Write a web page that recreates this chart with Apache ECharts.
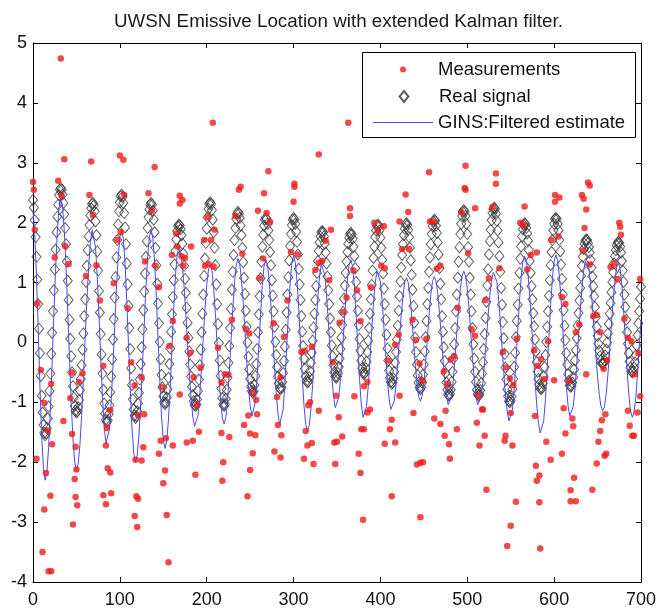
<!DOCTYPE html>
<html>
<head>
<meta charset="utf-8">
<title>UWSN Emissive Location</title>
<script src="https://cdn.jsdelivr.net/npm/echarts@6.0.0/dist/echarts.min.js"></script>
<style>
html, body { margin: 0; padding: 0; background: #fff; }
#chart { width: 659px; height: 609px; }
</style>
</head>
<body>
<div id="chart"></div>
<script>
// real signal: one sample per time step, t = 0 .. 700
const sigY = [
  2.38, 2.25, 2.04, 1.76, 1.43, 1.05, 0.64, 0.23, -0.18, -0.56, -0.89, -1.17, -1.38, -1.51, -1.55,
  -1.52, -1.43, -1.27, -1.07, -0.81, -0.52, -0.19, 0.16, 0.52, 0.87, 1.22, 1.55, 1.84, 2.10, 2.30, 2.46, 2.55, 2.58,
  2.55, 2.47, 2.33, 2.14, 1.91, 1.64, 1.35, 1.03, 0.71, 0.38, 0.06, -0.23, -0.50, -0.73, -0.92, -1.06, -1.14, -1.17,
  -1.15, -1.08, -0.96, -0.80, -0.61, -0.38, -0.12, 0.15, 0.44, 0.72, 1.01, 1.28, 1.54, 1.77, 1.96, 2.12, 2.24, 2.31, 2.33,
  2.29, 2.19, 2.02, 1.79, 1.52, 1.20, 0.86, 0.50, 0.14, -0.20, -0.52, -0.79, -1.02, -1.19, -1.29, -1.33,
  -1.30, -1.20, -1.05, -0.83, -0.57, -0.28, 0.05, 0.39, 0.75, 1.09, 1.42, 1.71, 1.97, 2.19, 2.34, 2.44, 2.47,
  2.43, 2.33, 2.16, 1.92, 1.64, 1.32, 0.97, 0.61, 0.24, -0.11, -0.43, -0.71, -0.95, -1.12, -1.22, -1.26,
  -1.23, -1.15, -1.02, -0.84, -0.62, -0.36, -0.08, 0.22, 0.54, 0.85, 1.15, 1.43, 1.69, 1.91, 2.09, 2.22, 2.30, 2.33,
  2.30, 2.20, 2.05, 1.84, 1.58, 1.29, 0.98, 0.65, 0.32, 0.01, -0.28, -0.54, -0.75, -0.90, -1.00, -1.03,
  -1.00, -0.92, -0.78, -0.59, -0.36, -0.10, 0.18, 0.47, 0.76, 1.04, 1.30, 1.53, 1.72, 1.86, 1.94, 1.97,
  1.95, 1.89, 1.79, 1.65, 1.48, 1.28, 1.06, 0.83, 0.58, 0.33, 0.08, -0.15, -0.37, -0.57, -0.74, -0.88, -0.98, -1.04, -1.06,
  -1.03, -0.95, -0.81, -0.62, -0.38, -0.12, 0.17, 0.48, 0.80, 1.11, 1.40, 1.66, 1.90, 2.09, 2.23, 2.31, 2.34,
  2.31, 2.21, 2.05, 1.84, 1.58, 1.29, 0.97, 0.64, 0.31, -0.01, -0.30, -0.56, -0.77, -0.93, -1.03, -1.06,
  -1.03, -0.94, -0.79, -0.59, -0.34, -0.06, 0.24, 0.56, 0.88, 1.18, 1.46, 1.71, 1.91, 2.06, 2.15, 2.18,
  2.15, 2.08, 1.95, 1.79, 1.58, 1.34, 1.08, 0.81, 0.53, 0.26, 0.00, -0.24, -0.45, -0.61, -0.74, -0.81, -0.84,
  -0.81, -0.71, -0.56, -0.36, -0.11, 0.17, 0.47, 0.77, 1.07, 1.35, 1.60, 1.80, 1.95, 2.05, 2.08,
  2.06, 1.98, 1.87, 1.71, 1.51, 1.29, 1.04, 0.78, 0.52, 0.26, 0.01, -0.21, -0.41, -0.57, -0.68, -0.76, -0.78,
  -0.75, -0.66, -0.51, -0.31, -0.07, 0.21, 0.50, 0.80, 1.09, 1.37, 1.61, 1.81, 1.96, 2.05, 2.08,
  2.05, 1.98, 1.85, 1.68, 1.47, 1.23, 0.97, 0.71, 0.44, 0.18, -0.06, -0.27, -0.44, -0.57, -0.64, -0.67,
  -0.65, -0.58, -0.48, -0.34, -0.17, 0.03, 0.25, 0.48, 0.71, 0.94, 1.16, 1.36, 1.53, 1.67, 1.77, 1.84, 1.86,
  1.84, 1.77, 1.65, 1.50, 1.32, 1.10, 0.87, 0.64, 0.40, 0.17, -0.05, -0.23, -0.38, -0.50, -0.57, -0.59,
  -0.57, -0.51, -0.41, -0.27, -0.11, 0.08, 0.29, 0.51, 0.73, 0.95, 1.16, 1.35, 1.51, 1.65, 1.75, 1.81, 1.83,
  1.80, 1.73, 1.60, 1.44, 1.24, 1.01, 0.77, 0.53, 0.29, 0.06, -0.14, -0.30, -0.43, -0.50, -0.53,
  -0.51, -0.43, -0.32, -0.16, 0.03, 0.24, 0.48, 0.72, 0.96, 1.20, 1.41, 1.60, 1.76, 1.87, 1.95, 1.97,
  1.94, 1.87, 1.75, 1.58, 1.38, 1.15, 0.90, 0.64, 0.38, 0.13, -0.10, -0.30, -0.47, -0.59, -0.66, -0.69,
  -0.67, -0.60, -0.49, -0.34, -0.16, 0.05, 0.28, 0.53, 0.77, 1.02, 1.25, 1.46, 1.64, 1.79, 1.90, 1.97, 1.99,
  1.96, 1.88, 1.76, 1.58, 1.37, 1.13, 0.88, 0.61, 0.33, 0.08, -0.16, -0.37, -0.55, -0.67, -0.75, -0.78,
  -0.75, -0.67, -0.54, -0.37, -0.15, 0.09, 0.36, 0.64, 0.91, 1.18, 1.42, 1.64, 1.81, 1.94, 2.02, 2.05,
  2.03, 1.95, 1.83, 1.67, 1.47, 1.24, 0.98, 0.72, 0.44, 0.18, -0.08, -0.31, -0.51, -0.67, -0.79, -0.87, -0.89,
  -0.86, -0.79, -0.66, -0.49, -0.27, -0.03, 0.24, 0.52, 0.80, 1.08, 1.35, 1.59, 1.81, 1.98, 2.11, 2.18, 2.21,
  2.18, 2.11, 1.98, 1.81, 1.59, 1.35, 1.08, 0.80, 0.52, 0.24, -0.03, -0.27, -0.49, -0.66, -0.79, -0.86, -0.89,
  -0.87, -0.80, -0.68, -0.52, -0.33, -0.11, 0.14, 0.41, 0.68, 0.95, 1.22, 1.47, 1.69, 1.88, 2.04, 2.16, 2.23, 2.25,
  2.23, 2.15, 2.03, 1.87, 1.67, 1.44, 1.18, 0.91, 0.63, 0.34, 0.07, -0.19, -0.42, -0.62, -0.78, -0.90, -0.98, -1.00,
  -0.97, -0.90, -0.78, -0.61, -0.41, -0.17, 0.09, 0.36, 0.63, 0.90, 1.16, 1.40, 1.60, 1.77, 1.89, 1.96, 1.99,
  1.97, 1.91, 1.82, 1.70, 1.54, 1.36, 1.16, 0.94, 0.72, 0.49, 0.27, 0.05, -0.15, -0.33, -0.49, -0.61, -0.70, -0.76, -0.78,
  -0.76, -0.68, -0.57, -0.41, -0.21, 0.01, 0.26, 0.52, 0.78, 1.04, 1.29, 1.51, 1.71, 1.87, 1.98, 2.06, 2.08,
  2.06, 1.98, 1.87, 1.71, 1.52, 1.30, 1.06, 0.80, 0.54, 0.28, 0.04, -0.18, -0.37, -0.53, -0.64, -0.72, -0.74,
  -0.72, -0.67, -0.58, -0.45, -0.30, -0.13, 0.07, 0.28, 0.49, 0.70, 0.91, 1.11, 1.28, 1.43, 1.56, 1.65, 1.70, 1.72,
  1.71, 1.66, 1.59, 1.50, 1.38, 1.25, 1.10, 0.94, 0.77, 0.59, 0.42, 0.26, 0.11, -0.02, -0.14, -0.23, -0.30, -0.35, -0.36,
  -0.34, -0.30, -0.22, -0.12, 0.00, 0.15, 0.31, 0.48, 0.66, 0.84, 1.01, 1.17, 1.32, 1.44, 1.54, 1.62, 1.66, 1.68,
  1.66, 1.60, 1.50, 1.36, 1.20, 1.01, 0.80, 0.59, 0.38, 0.17, -0.02, -0.18, -0.32, -0.42, -0.48, -0.50,
  -0.48, -0.42, -0.33, -0.21, -0.05, 0.12, 0.32, 0.52, 0.73, 0.93
];

// GINS filtered estimate: one sample every 2 time steps, t = 0 .. 700
const estY = [
  2.20, 1.82, 1.11, 0.21, -0.73, -1.55, -2.10, -2.30,
  -2.16, -1.75, -1.13, -0.36, 0.46, 1.23, 1.85, 2.26, 2.40,
  2.26, 1.87, 1.27, 0.52, -0.26, -1.01, -1.61, -2.00, -2.14,
  -2.03, -1.71, -1.22, -0.62, 0.05, 0.69, 1.25, 1.66, 1.87,
  1.87, 1.59, 1.10, 0.44, -0.26, -0.92, -1.41, -1.69,
  -1.69, -1.45, -1.00, -0.41, 0.25, 0.88, 1.41, 1.76, 1.88,
  1.73, 1.31, 0.68, -0.06, -0.80, -1.43, -1.85, -2.00,
  -1.88, -1.55, -1.03, -0.40, 0.28, 0.91, 1.43, 1.76, 1.88,
  1.74, 1.35, 0.75, 0.06, -0.64, -1.24, -1.63, -1.77,
  -1.64, -1.28, -0.73, -0.09, 0.56, 1.11, 1.47, 1.60,
  1.52, 1.28, 0.92, 0.46, -0.03, -0.52, -0.93, -1.24, -1.40,
  -1.40, -1.22, -0.88, -0.43, 0.07, 0.55, 0.95, 1.21, 1.30,
  1.20, 0.91, 0.48, -0.03, -0.54, -0.97, -1.26, -1.36,
  -1.25, -0.96, -0.51, 0.02, 0.55, 1.00, 1.29, 1.40,
  1.31, 1.05, 0.67, 0.20, -0.29, -0.72, -1.05, -1.23,
  -1.22, -1.00, -0.59, -0.07, 0.47, 0.95, 1.27, 1.38,
  1.29, 1.02, 0.61, 0.12, -0.38, -0.84, -1.18, -1.37,
  -1.36, -1.12, -0.68, -0.12, 0.47, 0.98, 1.33, 1.45,
  1.34, 1.02, 0.55, -0.02, -0.58, -1.05, -1.37, -1.48,
  -1.39, -1.11, -0.70, -0.20, 0.31, 0.77, 1.12, 1.31,
  1.31, 1.12, 0.79, 0.35, -0.13, -0.57, -0.90, -1.09,
  -1.09, -0.92, -0.62, -0.21, 0.25, 0.69, 1.06, 1.30, 1.38,
  1.27, 0.94, 0.46, -0.09, -0.62, -1.03, -1.25,
  -1.26, -1.07, -0.73, -0.28, 0.21, 0.66, 1.00, 1.19,
  1.19, 1.01, 0.69, 0.26, -0.19, -0.62, -0.94, -1.12,
  -1.12, -0.97, -0.70, -0.33, 0.07, 0.46, 0.79, 1.01, 1.08,
  1.00, 0.78, 0.44, 0.05, -0.34, -0.68, -0.90, -0.98,
  -0.90, -0.68, -0.34, 0.06, 0.46, 0.80, 1.02, 1.10,
  1.03, 0.82, 0.50, 0.12, -0.28, -0.63, -0.90, -1.04,
  -1.04, -0.89, -0.61, -0.24, 0.17, 0.57, 0.90, 1.11, 1.19,
  1.11, 0.90, 0.57, 0.17, -0.24, -0.61, -0.89, -1.04,
  -1.04, -0.91, -0.66, -0.32, 0.07, 0.45, 0.79, 1.04, 1.17,
  1.17, 1.02, 0.74, 0.36, -0.07, -0.50, -0.88, -1.16, -1.31,
  -1.31, -1.12, -0.78, -0.32, 0.18, 0.67, 1.08, 1.35, 1.44,
  1.36, 1.13, 0.77, 0.32, -0.17, -0.64, -1.05, -1.35, -1.51,
  -1.50, -1.31, -0.94, -0.44, 0.10, 0.63, 1.07, 1.36, 1.46,
  1.37, 1.11, 0.71, 0.23, -0.27, -0.71, -1.05, -1.23,
  -1.23, -1.07, -0.78, -0.38, 0.07, 0.51, 0.91, 1.20, 1.36,
  1.36, 1.23, 0.97, 0.63, 0.22, -0.19, -0.57, -0.87, -1.07, -1.14,
  -1.07, -0.85, -0.52, -0.12, 0.31, 0.71, 1.04, 1.26, 1.33,
  1.23, 0.95, 0.53, 0.04, -0.45, -0.87, -1.15, -1.25,
  -1.16, -0.92, -0.54, -0.09, 0.37
];

// measurements close to the signal
const bandX = [
  1, 5, 9, 13, 17, 21, 25, 29, 33, 37, 41, 45, 49, 53, 57, 61, 65, 69, 73, 77, 81, 85, 89, 93, 97,
  101, 105, 109, 113, 117, 121, 125, 129, 133, 137, 141, 145, 149, 153, 157, 161, 165, 169, 173, 177, 181, 185, 189, 193, 197,
  201, 205, 209, 213, 217, 221, 225, 229, 233, 237, 241, 245, 249, 253, 257, 261, 265, 269, 273, 277, 281, 285, 289, 293, 297,
  301, 305, 309, 313, 317, 321, 325, 329, 333, 337, 341, 345, 349, 353, 357, 361, 365, 369, 373, 377, 381, 385, 389, 393, 397,
  401, 405, 409, 413, 417, 421, 425, 429, 433, 437, 441, 445, 449, 453, 457, 461, 465, 469, 473, 477, 481, 485, 489, 493, 497,
  501, 505, 509, 513, 517, 521, 525, 529, 533, 537, 541, 545, 549, 553, 557, 561, 565, 569, 573, 577, 581, 585, 589, 593, 597,
  601, 605, 609, 613, 617, 621, 625, 629, 633, 637, 641, 645, 649, 653, 657, 661, 665, 669, 673, 677, 681, 685, 689, 693, 697
];
const bandY = [
  2.55, 0.65, -0.46, -1.01, -1.47, -0.69, 1.42, 2.70, 2.45, 1.61, 1.31, -0.50, -1.74,
  -0.66, -0.52, 1.11, 2.46, 2.13, 1.29, 0.70, -0.39, -1.43, -1.13, 0.99, 1.71, 1.84,
  2.46, 0.57, -0.33, -0.72, -1.22, -0.58, 1.35, 2.49, 2.20, 1.28, 0.92, -0.75, -1.60,
  -0.06, 0.36, 1.82, 2.45, 1.28, 0.08, -0.17, -0.58, -1.05, -0.42, 1.71, 2.09, 1.71,
  1.88, -0.09, -0.67, -0.53, -0.54, 0.38, 2.11, 2.55, 1.48, 0.23, 0.15, -0.84, -0.96,
  1.07, 1.40, 2.16, 2.01, 0.32, -0.91, -0.58, 0.09, 0.70, 1.51, 2.65, 1.47, -0.16,
  -0.14, -1.05, -0.07, 1.21, 1.33, 1.36, 1.70, 1.04, -0.33, -0.89, 0.33, 0.51, 0.75,
  2.11, 1.20, 0.87, 0.36, -0.73, -0.66, 0.92, 2.00, 1.87, 1.28, 1.24, -0.30, -1.29,
  -0.04, 0.13, 1.56, 2.47, 1.56, 0.38, 0.04, -0.35, -0.64, 0.06, 2.02, 2.02, 1.23,
  1.28, -0.48, -0.69, -0.29, -0.23, 0.58, 2.18, 2.58, 1.49, 0.22, 0.11, -0.89, -1.12,
  0.71, 1.07, 2.26, 2.65, 1.24, -0.16, -0.42, -0.60, -0.71, 0.06, 2.00, 1.96, 1.22,
  1.46, -0.13, -0.39, -0.28, -0.61, 0.02, 1.71, 2.46, 1.77, 0.76, 0.64, -0.64, -1.27,
  0.17, 0.30, 1.53, 2.22, 1.30, 0.44, 0.46, 0.17, -0.44, -0.30, 1.26, 1.32, 1.06,
  1.80, 0.40, 0.08, 0.02, -0.53, -0.18
];

// measurements far from the signal
const outX = [
  0, 2, 32, 36, 67, 100, 104, 140, 169, 172, 207, 239, 259, 266, 271, 300, 301, 329, 343, 363,
  365, 404, 422, 432, 456, 498, 498, 509, 533, 566, 580, 601, 606, 632, 634, 639, 641, 635, 675, 676, 699,
  160, 166, 171, 175, 182, 198, 202, 208,
  4, 11, 18, 21, 13, 20, 15, 22, 35, 45, 46, 48, 50, 49, 51, 43,
  81, 84, 86, 89, 90, 84,
  117, 120, 119, 121, 118, 125, 127, 128,
  145, 147, 150, 152, 154, 156, 161, 169, 177, 184, 187, 191,
  217, 219, 218, 226, 243, 247, 250, 250, 253, 256, 248, 258,
  278, 282, 285, 286, 312, 314, 316, 323, 321, 329, 319,
  348, 347, 350, 352, 356, 375, 377, 380, 378, 381, 370, 385, 388,
  405, 411, 413, 417, 422, 442, 446, 449, 446, 438,
  462, 469, 474, 479, 480, 488, 475,
  511, 514, 520, 522, 518,
  544, 543, 546, 550, 552, 556, 550,
  578, 579, 580, 583, 583, 584, 591, 596, 600,
  609, 613, 611, 619, 619, 625, 623, 622,
  637, 644, 649, 651, 653, 658, 660, 655, 659,
  685, 687, 690, 692, 696, 699
];
const outY = [
  2.68, 1.88, 4.74, 3.06, 3.02, 3.12, 3.05, 2.93, 2.32, 2.38, 3.67, 2.60, 2.20, 2.49, 2.86, 2.35, 2.60, 3.14, 1.88, 3.67,
  2.24, 1.94, 2.02, 2.18, 2.84, 2.95, 2.55, 2.24, 2.82, 2.27, 1.50, 2.35, 2.42, 2.46, 2.40, 2.67, 2.62, 1.91, 2.00, 1.93, 1.06,
  1.46, 1.60, 1.44, 1.41, 1.60, 1.28, 1.31, 1.27,
  -1.94, -3.50, -3.82, -3.82, -2.79, -2.56, -2.18, -1.70, -1.31, -1.53, -3.04, -2.28, -2.12, -2.58, -2.72, -0.93,
  -2.55, -2.70, -2.10, -2.17, -2.52, -1.72,
  -2.90, -3.08, -2.57, -2.61, -1.96, -1.97, -1.75, -1.20,
  -1.86, -1.64, -2.35, -2.14, -2.88, -3.67, -1.72, -0.87, -1.67, -1.64, -2.21, -1.49,
  -1.51, -2.00, -2.31, -1.58, -1.38, -2.57, -1.52, -2.13, -1.85, -1.55, -1.22, -1.20,
  -1.82, -1.38, -1.92, -1.55, -1.94, -1.48, -1.72, -2.03, -1.68, -1.14, -1.00,
  -2.03, -1.67, -1.66, -1.25, -1.57, -1.86, -2.18, -2.96, -1.45, -1.45, -0.90, -1.17, -1.12,
  -1.69, -1.45, -2.57, -1.67, -0.89, -2.04, -2.01, -2.00, -2.92, -1.18,
  -1.27, -1.36, -1.56, -1.70, -1.94, -1.45, -1.14,
  -1.34, -1.72, -1.56, -2.46, -1.12,
  -1.56, -1.64, -3.40, -3.06, -1.72, -2.66, -1.18,
  -1.23, -2.06, -2.31, -2.22, -2.67, -3.44, -1.66, -1.96, -0.63,
  -1.86, -1.52, -1.10, -2.47, -2.65, -2.65, -2.26, -1.40,
  -0.53, -2.46, -2.02, -1.66, -1.48, -1.89, -1.86, -1.30, -1.20,
  -1.14, -1.39, -1.56, -1.56, -1.17, -0.90
];

const sigStep = 1;
const estStep = 2;

const font = "'Liberation Sans', Arial, Helvetica, sans-serif";

const sigData = sigY.map((y, i) => [i * sigStep, y]);
const estData = estY.map((y, i) => [i * estStep, y]);
const measData = bandX.map((x, i) => [x, bandY[i]])
  .concat(outX.map((x, i) => [x, outY[i]]));

// legend icons drawn in a 60 x 14 box (the two leading moves fix the box)
const iconDot = 'path://M0,0 M60,14 M27,7 A3,3 0 1,0 33,7 A3,3 0 1,0 27,7 Z';
const iconDiamond = 'path://M0,0 M60,14 M30,1.5 L34.5,7 L30,12.5 L25.5,7 Z';
const iconLine = 'path://M0,0 M60,14 M0,6.5 L60,6.5 L60,7.5 L0,7.5 Z';

const myChart = echarts.init(document.getElementById('chart'));

const axisBase = {
  type: 'value',
  axisLine: { show: true, onZero: false, lineStyle: { color: '#000', width: 1 } },
  axisTick: { show: true, inside: true, length: 5, lineStyle: { color: '#000' } },
  splitLine: { show: false }
};
const xLabel = { fontFamily: font, fontSize: 18, color: '#111', margin: 9 };
const yLabel = { fontFamily: font, fontSize: 18, color: '#111', margin: 6 };
const legendText = { fontFamily: font, fontSize: 18.5, color: '#111' };
const legendBase = {
  left: 373, padding: 0, itemWidth: 60, itemHeight: 14, symbolKeepAspect: false,
  selectedMode: false, textStyle: legendText, z: 6
};

const option = {
  animation: false,
  backgroundColor: '#fff',
  title: {
    text: 'UWSN Emissive Location with extended Kalman filter.',
    left: 114,
    top: 12,
    padding: 0,
    textStyle: { fontFamily: font, fontSize: 18.8, fontWeight: 'normal', color: '#1a1a1a' }
  },
  grid: { left: 33, right: 16, top: 43, bottom: 26 },
  xAxis: [
    Object.assign({}, axisBase, { position: 'bottom', min: 0, max: 700, interval: 100, axisLabel: xLabel }),
    Object.assign({}, axisBase, { position: 'top', min: 0, max: 700, interval: 100, axisLabel: { show: false } })
  ],
  yAxis: [
    Object.assign({}, axisBase, { position: 'left', min: -4, max: 5, interval: 1, axisLabel: yLabel }),
    Object.assign({}, axisBase, { position: 'right', min: -4, max: 5, interval: 1, axisLabel: { show: false } })
  ],
  graphic: [{
    type: 'rect',
    left: 362,
    top: 52,
    z: 5,
    shape: { width: 273, height: 85 },
    style: { fill: '#fff', stroke: '#000', lineWidth: 1 }
  }],
  legend: [
    Object.assign({}, legendBase, { top: 60, data: [{ name: 'Measurements', icon: iconDot }] }),
    Object.assign({}, legendBase, { top: 87, data: [{ name: 'Real signal', icon: iconDiamond }] }),
    Object.assign({}, legendBase, { top: 113, data: [{ name: 'GINS:Filtered estimate', icon: iconLine }] })
  ],
  series: [
    {
      name: 'Real signal',
      type: 'scatter',
      data: sigData,
      symbol: 'diamond',
      symbolSize: [9, 11],
      itemStyle: { color: 'rgba(0,0,0,0)', borderColor: '#383838', borderWidth: 1 },
      silent: true,
      z: 2
    },
    {
      name: 'GINS:Filtered estimate',
      type: 'line',
      data: estData,
      symbol: 'none',
      lineStyle: { color: '#4a4af0', width: 1 },
      itemStyle: { color: '#4a4af0' },
      silent: true,
      z: 3
    },
    {
      name: 'Measurements',
      type: 'scatter',
      data: measData,
      symbol: 'circle',
      symbolSize: 6.5,
      itemStyle: { color: '#f01c1c' },
      silent: true,
      z: 4
    }
  ]
};
option && myChart.setOption(option);
</script>
</body>
</html>
